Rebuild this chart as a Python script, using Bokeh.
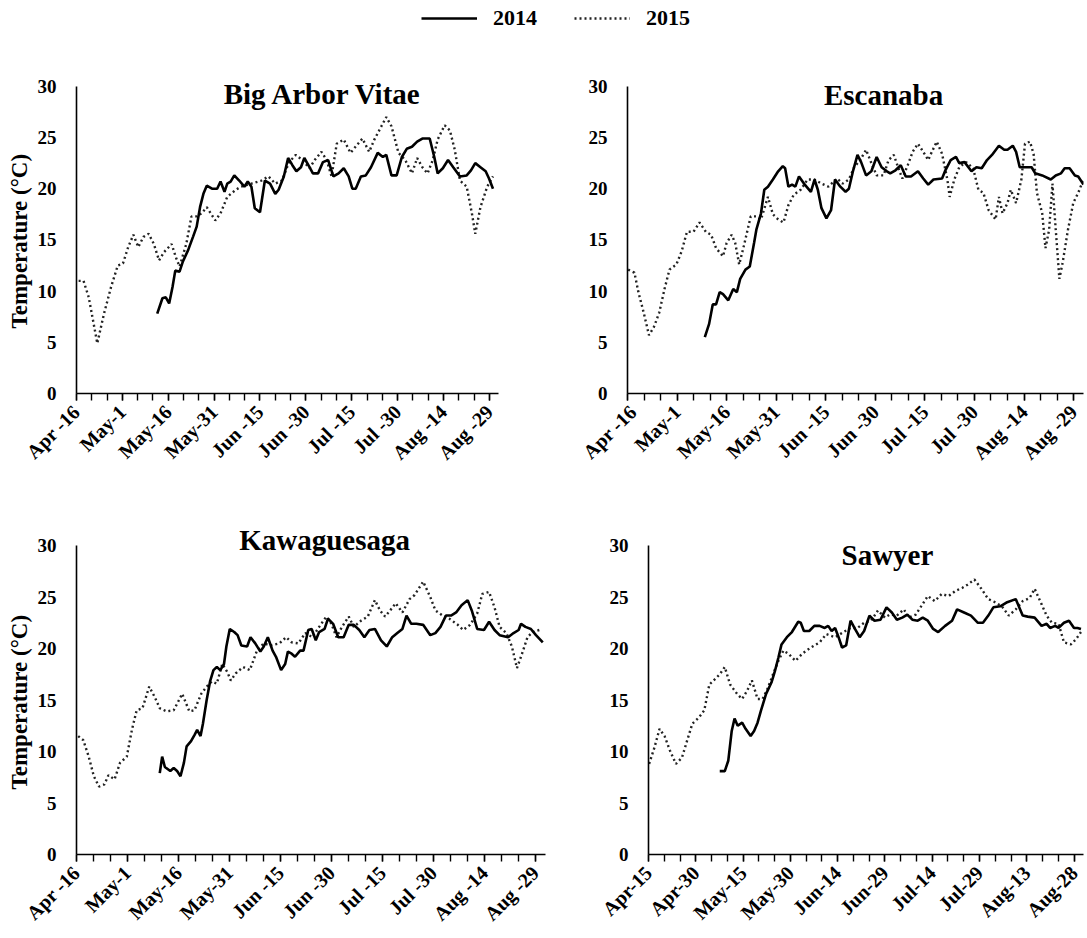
import math
from bokeh.plotting import figure
from bokeh.models import FixedTicker, Label, Legend, LegendItem, Range1d, Title
from bokeh.layouts import column, row
from bokeh.embed import file_html
from bokeh.resources import INLINE

FONT = "Liberation Serif"

# ---- axis ticks / labels (days after the first label date) ----
tick_days = [0, 15, 30, 45, 60, 75, 90, 105, 120, 135]
minor_days = list(range(0, 140, 5))
labels_apr16 = ["Apr -16", "May-1", "May-16", "May-31", "Jun -15", "Jun -30",
                "Jul -15", "Jul -30", "Aug -14", "Aug -29"]
labels_apr15 = ["Apr-15", "Apr-30", "May-15", "May-30", "Jun-14", "Jun-29",
                "Jul-14", "Jul-29", "Aug-13", "Aug-28"]
y_ticks = [0, 5, 10, 15, 20, 25, 30]

sites = ["Big Arbor  Vitae", "Escanaba", "Kawaguesaga", "Sawyer"]
years = ["2014", "2015"]

# ---- Big Arbor Vitae ----
bav_2014_day = [26.4, 28.1, 29.2, 30.3, 31.4, 32.3, 33.7, 34.8, 36.5, 38.1,
                39.3, 40.4, 41.5, 42.6, 44.3, 46.0, 47.1, 48.4, 49.3, 50.4,
                51.6, 53.2, 54.9, 56.0, 57.2, 58.3, 60.0, 61.6, 63.3, 65.0,
                66.1, 67.8, 69.2, 70.6, 71.9, 73.4, 74.5, 76.2, 77.3, 79.0,
                80.6, 82.3, 84.0, 85.7, 87.4, 89.0, 90.2, 91.3, 93.0, 94.6,
                96.3, 98.5, 100.2, 101.3, 103.0, 104.7, 106.4, 108.0, 109.7, 111.4,
                113.1, 115.5, 117.0, 118.1, 119.8, 121.5, 123.2, 125.4, 127.6, 129.0,
                130.4, 132.1, 133.8, 134.9, 136.2]
bav_2014_temp = [7.8, 9.3, 9.4, 8.8, 10.4, 12.0, 11.9, 12.9, 14.0, 15.3,
                 16.3, 18.2, 19.5, 20.3, 20.0, 20.0, 20.7, 19.7, 20.5, 20.7,
                 21.3, 20.8, 20.2, 20.7, 20.2, 18.1, 17.7, 20.8, 20.5, 19.5,
                 19.9, 21.2, 23.0, 22.3, 21.7, 22.1, 23.0, 22.1, 21.5, 21.5,
                 22.6, 22.8, 21.2, 21.5, 22.0, 21.2, 20.0, 20.0, 21.2, 21.3,
                 22.1, 23.5, 23.1, 23.3, 21.3, 21.3, 23.1, 23.9, 24.1, 24.6,
                 24.9, 24.9, 23.1, 21.5, 22.0, 22.8, 22.1, 21.2, 21.3, 21.8,
                 22.5, 22.1, 21.7, 21.0, 20.0]
bav_2015_day = [0.7, 2.3, 4.0, 6.8, 9.0, 11.3, 13.5, 15.2, 16.9, 18.6,
                20.2, 21.9, 23.6, 25.3, 27.0, 28.6, 31.1, 32.5, 33.7, 35.9,
                37.6, 39.3, 40.9, 42.6, 45.4, 47.1, 49.3, 52.1, 53.8, 57.2,
                60.5, 62.8, 65.0, 67.2, 69.5, 71.7, 73.9, 76.2, 77.9, 80.1,
                81.8, 83.4, 85.1, 87.4, 89.6, 91.8, 93.5, 95.7, 97.4, 99.7,
                101.3, 103.0, 105.3, 107.5, 109.7, 111.4, 113.1, 114.8, 116.5, 118.1,
                120.4, 122.1, 123.7, 125.4, 127.6, 129.3, 130.4, 132.1, 134.3, 136.2]
bav_2015_temp = [11.0, 11.0, 9.4, 4.9, 7.8, 10.4, 12.5, 12.7, 14.3, 15.5,
                 14.3, 15.3, 15.6, 14.6, 13.0, 13.8, 14.6, 13.3, 12.4, 14.6,
                 17.3, 17.3, 17.6, 18.2, 16.9, 17.6, 19.2, 19.9, 20.2, 20.5,
                 20.8, 21.2, 20.5, 20.8, 22.6, 23.3, 22.8, 22.0, 22.8, 23.6,
                 22.8, 21.2, 24.4, 24.8, 23.5, 24.3, 24.9, 23.6, 24.8, 26.1,
                 27.0, 26.1, 23.5, 22.8, 21.5, 23.0, 22.1, 21.5, 22.8, 24.8,
                 26.2, 25.7, 23.8, 20.8, 20.2, 17.6, 15.6, 18.2, 20.2, 21.2]

# ---- Escanaba ----
esc_2014_day = [23.4, 24.7, 25.8, 26.8, 27.9, 28.9, 30.5, 32.0, 33.1, 34.1,
                35.7, 37.0, 38.3, 39.0, 40.4, 41.4, 42.5, 44.0, 45.6, 47.0,
                47.7, 48.7, 49.8, 50.8, 51.9, 53.4, 55.5, 56.6, 57.6, 58.7,
                60.2, 61.6, 62.8, 64.4, 66.0, 67.0, 68.3, 69.6, 70.7, 72.2,
                73.8, 75.4, 76.9, 78.5, 79.5, 81.1, 82.7, 84.2, 85.8, 87.9,
                89.5, 91.0, 92.6, 95.2, 96.2, 97.8, 99.4, 100.4, 102.0, 104.1,
                105.6, 107.2, 108.8, 110.3, 112.4, 114.0, 115.0, 116.6, 117.6, 118.7,
                120.3, 122.3, 123.4, 125.5, 128.1, 129.6, 131.2, 132.3, 133.8, 135.4,
                136.4, 138.0]
esc_2014_temp = [5.5, 6.8, 8.7, 8.7, 9.9, 9.7, 9.1, 10.2, 9.9, 11.2,
                 12.1, 12.4, 14.7, 16.0, 17.6, 19.9, 20.2, 20.9, 21.7, 22.2,
                 22.0, 20.2, 20.4, 20.2, 21.2, 20.5, 19.7, 20.9, 19.9, 18.1,
                 17.1, 17.9, 20.9, 20.2, 19.7, 20.0, 21.8, 23.3, 22.6, 21.3,
                 21.7, 23.1, 22.1, 21.7, 21.5, 21.8, 22.3, 21.2, 21.2, 21.7,
                 21.0, 20.4, 20.9, 21.0, 21.8, 22.8, 23.1, 22.5, 22.6, 21.7,
                 22.1, 22.0, 22.8, 23.3, 24.2, 23.8, 23.8, 24.2, 23.6, 22.1,
                 22.1, 22.1, 21.5, 21.3, 20.9, 21.3, 21.5, 22.0, 22.0, 21.3,
                 21.2, 20.4]
esc_2015_day = [0.2, 2.1, 3.3, 4.9, 6.5, 8.0, 9.6, 11.2, 12.7, 14.8,
                16.4, 18.0, 20.0, 21.8, 23.7, 25.3, 26.8, 28.9, 30.0, 31.5,
                32.6, 33.8, 35.2, 37.3, 39.0, 40.4, 42.5, 44.0, 45.6, 47.2,
                48.7, 50.3, 52.4, 54.5, 56.6, 58.7, 60.8, 63.4, 65.1, 67.0,
                68.6, 70.4, 72.2, 73.8, 75.4, 77.5, 79.0, 80.6, 82.2, 83.2,
                84.8, 86.3, 87.9, 89.5, 91.0, 92.1, 93.6, 95.2, 96.8, 97.5,
                98.9, 100.4, 102.5, 104.6, 106.2, 107.7, 109.3, 111.4, 112.4, 113.5,
                115.0, 116.0, 117.6, 119.2, 120.3, 121.8, 122.9, 123.9, 125.5, 126.5,
                127.6, 128.6, 129.6, 130.7, 131.7, 133.3, 134.9, 136.4, 138.0]
esc_2015_temp = [12.1, 11.8, 9.9, 7.9, 5.7, 6.5, 7.9, 10.2, 12.1, 12.6,
                 13.9, 15.8, 15.8, 16.7, 15.8, 15.5, 14.2, 13.4, 14.7, 15.5,
                 14.7, 12.6, 14.4, 17.3, 17.3, 17.0, 19.2, 17.5, 17.0, 16.7,
                 18.4, 19.4, 19.9, 20.9, 20.9, 20.5, 20.2, 21.0, 20.5, 20.9,
                 22.1, 22.8, 23.8, 22.5, 21.3, 21.3, 22.8, 23.3, 21.8, 21.0,
                 22.3, 23.6, 24.4, 23.6, 22.8, 23.6, 24.6, 23.4, 20.9, 19.2,
                 20.9, 22.1, 22.6, 22.0, 19.9, 19.6, 17.9, 17.0, 19.2, 17.6,
                 18.6, 19.9, 18.6, 20.9, 24.4, 24.6, 23.4, 19.6, 17.6, 14.2,
                 16.0, 20.5, 16.0, 11.2, 12.8, 16.0, 18.6, 19.6, 20.9]

# ---- Kawaguesaga ----
kaw_2014_day = [24.5, 25.2, 26.0, 27.6, 28.6, 29.6, 30.6, 31.6, 32.4, 33.7,
                34.7, 35.5, 36.5, 37.2, 38.3, 39.3, 40.3, 41.3, 42.3, 43.4,
                44.1, 45.1, 46.4, 47.4, 48.5, 50.2, 51.2, 52.6, 54.1, 55.1,
                56.3, 57.7, 58.7, 60.2, 61.4, 62.2, 63.3, 64.3, 65.8, 66.8,
                68.2, 69.2, 70.4, 71.4, 73.0, 74.0, 75.5, 77.0, 78.6, 80.1,
                81.6, 83.2, 84.7, 86.2, 87.8, 89.6, 91.3, 92.9, 94.4, 95.9,
                97.1, 98.5, 100.0, 102.0, 104.1, 105.6, 107.1, 108.7, 110.2, 111.7,
                113.3, 115.1, 116.3, 117.9, 119.9, 121.4, 123.0, 124.5, 127.0, 128.6,
                130.1, 130.8, 132.1, 133.7, 135.2, 137.2]
kaw_2014_temp = [7.9, 9.5, 8.5, 8.1, 8.4, 8.1, 7.6, 8.9, 10.5, 11.0,
                 11.6, 12.1, 11.5, 12.7, 15.0, 16.8, 17.9, 18.2, 17.9, 18.5,
                 20.2, 21.9, 21.6, 21.3, 20.3, 20.2, 21.1, 20.5, 19.7, 20.2,
                 21.1, 19.8, 19.2, 17.9, 18.5, 19.7, 19.5, 19.2, 19.8, 19.8,
                 21.8, 21.9, 20.8, 21.6, 21.9, 22.9, 22.4, 21.1, 21.1, 22.3,
                 22.3, 21.8, 21.1, 21.8, 21.9, 20.8, 20.2, 21.1, 21.5, 21.9,
                 23.2, 22.4, 22.4, 22.3, 21.3, 21.5, 22.1, 23.2, 23.2, 23.5,
                 24.2, 24.7, 23.7, 21.9, 21.8, 22.6, 21.8, 21.3, 21.1, 21.5,
                 21.8, 22.4, 22.1, 21.9, 21.3, 20.6]
kaw_2015_day = [0.5, 2.0, 3.6, 5.1, 6.6, 8.2, 9.4, 11.2, 12.8, 14.8,
                16.3, 17.7, 19.4, 21.4, 23.0, 24.5, 26.5, 28.6, 31.1, 33.2,
                34.7, 36.7, 38.3, 39.8, 41.3, 42.9, 44.4, 45.4, 46.9, 49.0,
                51.0, 53.1, 55.1, 57.1, 59.7, 61.7, 63.3, 65.3, 67.3, 69.4,
                71.4, 73.5, 75.0, 76.5, 78.1, 80.1, 81.6, 83.7, 85.7, 87.8,
                89.3, 90.8, 92.3, 93.9, 95.9, 98.0, 99.5, 102.0, 104.1, 105.6,
                107.7, 109.7, 112.2, 113.8, 115.8, 117.9, 119.4, 121.4, 123.0, 124.5,
                126.5, 128.1, 129.6, 131.1, 132.7, 134.2, 136.2]
kaw_2015_temp = [11.5, 11.1, 9.5, 7.6, 6.6, 6.8, 7.7, 7.3, 8.9, 9.5,
                 12.1, 14.0, 14.2, 16.3, 15.3, 14.2, 13.9, 14.0, 15.6, 13.9,
                 14.0, 15.6, 16.3, 16.8, 16.6, 18.5, 17.7, 16.9, 17.6, 18.2,
                 17.9, 19.8, 20.5, 20.3, 20.5, 21.1, 20.6, 20.5, 21.5, 21.1,
                 22.1, 23.1, 22.4, 21.1, 22.1, 23.1, 22.1, 22.7, 23.1, 24.7,
                 23.7, 23.1, 23.7, 24.4, 23.5, 24.8, 25.2, 26.5, 25.0, 23.7,
                 23.2, 22.9, 22.3, 21.8, 22.3, 23.4, 25.3, 25.5, 24.0, 22.1,
                 21.5, 20.2, 18.1, 19.5, 21.1, 21.6, 21.8]

# ---- Sawyer ----
saw_2014_day = [22.6, 24.2, 25.3, 26.4, 27.3, 28.3, 29.7, 30.8, 32.4, 33.5,
                34.6, 35.7, 37.3, 39.0, 40.1, 41.2, 42.2, 43.9, 45.5, 47.5,
                48.3, 49.3, 51.0, 52.6, 54.3, 55.9, 57.0, 58.1, 59.2, 60.3,
                61.4, 62.7, 64.1, 65.5, 67.0, 68.4, 70.1, 71.7, 73.6, 75.5,
                77.2, 78.8, 80.5, 82.1, 83.7, 85.4, 87.0, 88.6, 90.3, 91.9,
                94.1, 96.3, 97.9, 100.1, 102.3, 104.5, 106.1, 107.8, 109.4, 111.6,
                113.8, 116.5, 117.6, 118.7, 120.3, 122.5, 124.7, 126.3, 127.4, 129.0,
                130.1, 131.8, 133.4, 135.0, 136.1, 137.2]
saw_2014_temp = [8.1, 8.1, 9.1, 12.0, 13.2, 12.5, 12.8, 12.2, 11.5, 12.0,
                 12.8, 14.0, 15.6, 16.7, 17.8, 19.1, 20.4, 21.1, 21.6, 22.6,
                 22.5, 21.7, 21.7, 22.2, 22.2, 22.0, 22.2, 21.7, 22.0, 21.1,
                 20.1, 20.3, 22.7, 21.9, 21.1, 21.7, 23.2, 22.7, 22.8, 24.0,
                 23.5, 22.8, 23.0, 23.3, 22.8, 22.7, 23.0, 22.7, 21.9, 21.6,
                 22.2, 22.7, 23.8, 23.5, 23.2, 22.5, 22.5, 23.2, 24.0, 24.1,
                 24.5, 24.8, 24.0, 23.2, 23.1, 23.0, 22.2, 22.4, 22.0, 22.2,
                 22.0, 22.5, 22.7, 22.0, 22.0, 21.9]
saw_2015_day = [0.2, 1.9, 3.5, 5.1, 6.8, 8.7, 10.6, 12.2, 13.9, 16.0,
                17.7, 19.3, 21.0, 22.6, 24.2, 25.9, 28.1, 29.7, 31.3, 32.8,
                34.6, 36.2, 37.9, 39.5, 41.2, 42.8, 44.4, 46.6, 48.8, 51.5,
                54.3, 56.4, 59.2, 61.9, 64.1, 66.3, 68.4, 70.6, 72.8, 75.0,
                76.6, 78.8, 81.0, 82.6, 84.8, 86.5, 88.6, 90.8, 93.0, 95.2,
                97.4, 99.6, 101.2, 103.4, 105.6, 107.8, 109.9, 112.1, 114.3, 116.5,
                118.7, 120.9, 122.5, 124.7, 126.3, 128.0, 130.1, 131.8, 134.0, 135.6,
                137.2]
saw_2015_temp = [8.8, 10.4, 12.2, 11.5, 10.1, 8.8, 9.4, 11.0, 12.7, 13.3,
                 14.0, 16.5, 17.0, 17.5, 18.2, 16.5, 15.6, 15.1, 15.9, 16.9,
                 15.1, 15.1, 16.2, 17.5, 18.8, 19.8, 19.5, 18.8, 19.5, 20.1,
                 20.6, 21.4, 21.1, 21.6, 22.0, 22.0, 22.5, 22.7, 23.7, 23.0,
                 23.3, 23.2, 23.8, 23.0, 23.3, 24.1, 25.1, 24.6, 25.3, 25.1,
                 25.6, 25.9, 26.2, 26.7, 25.8, 24.8, 24.5, 24.1, 23.2, 23.8,
                 24.6, 24.9, 25.8, 24.3, 23.2, 22.5, 22.4, 20.6, 20.4, 20.9,
                 21.6]

SOLID = dict(line_color="#000000", line_width=2.6)
DOTTED = dict(line_color="#222222", line_width=2.4, line_dash="2 3")


def make_panel(name, d14, t14, d15, t15, xlabels, w, h, mbl, mbr, mbt, mbb,
               tx, ty, ylabel):
    p = figure(width=w, height=h, x_range=Range1d(0, 138), y_range=Range1d(0, 33.5),
               output_backend="svg", toolbar_location=None,
               min_border_left=mbl, min_border_right=mbr,
               min_border_top=mbt, min_border_bottom=mbb)
    p.outline_line_color = None
    p.grid.visible = False
    p.line(d15, t15, **DOTTED)
    p.line(d14, t14, **SOLID)

    xa = p.xaxis[0]
    xa.ticker = FixedTicker(ticks=tick_days, minor_ticks=minor_days)
    xa.major_label_overrides = {d: s for d, s in zip(tick_days, xlabels)}
    xa.major_label_orientation = math.pi / 4
    xa.major_tick_out = 7
    xa.major_tick_in = 0
    xa.minor_tick_out = 7
    xa.minor_tick_in = 0
    xa.major_label_standoff = 8
    xa.major_label_text_font_size = "20px"

    ya = p.yaxis[0]
    ya.ticker = FixedTicker(ticks=y_ticks)
    ya.bounds = (0, 30)
    ya.major_tick_out = 0
    ya.major_tick_in = 0
    ya.minor_tick_out = 0
    ya.minor_tick_in = 0
    ya.major_label_standoff = 20
    ya.major_label_text_font_size = "19px"

    for ax in (xa, ya):
        ax.axis_line_color = "#000000"
        ax.axis_line_width = 1.6
        ax.major_tick_line_color = "#000000"
        ax.minor_tick_line_color = "#000000"
        ax.major_tick_line_width = 1.4
        ax.minor_tick_line_width = 1.4
        ax.major_label_text_font = FONT
        ax.major_label_text_font_style = "bold"
        ax.major_label_text_color = "#000000"

    if ylabel:
        p.add_layout(Title(text="Temperature (°C)", align="left", offset=65,
                           standoff=6, text_font=FONT, text_font_size="23px",
                           text_font_style="bold", text_color="#000000"), "left")

    p.add_layout(Label(x=tx, y=ty, text=name, text_align="center",
                       text_baseline="alphabetic", text_font=FONT,
                       text_font_size="29px", text_font_style="bold",
                       text_color="#000000"))
    return p


p1 = make_panel(sites[0], bav_2014_day, bav_2014_temp, bav_2015_day, bav_2015_temp,
                labels_apr16, 578, 440, 76, 80, 11, 85, 81.8, 29.3, True)
p2 = make_panel(sites[1], esc_2014_day, esc_2014_temp, esc_2015_day, esc_2015_temp,
                labels_apr16, 507, 440, 49, 2, 12, 83, 77.5, 29.2, False)
p3 = make_panel(sites[2], kaw_2014_day, kaw_2014_temp, kaw_2015_day, kaw_2015_temp,
                labels_apr16, 578, 458, 76, 33, 31, 81, 73.0, 30.5, True)
p4 = make_panel(sites[3], saw_2014_day, saw_2014_temp, saw_2015_day, saw_2015_temp,
                labels_apr15, 507, 458, 70, 2, 31, 82, 75.8, 29.1, False)

# ---- legend strip (series drawn off-range so only the legend shows) ----
lf = figure(width=1085, height=38, x_axis_type=None, y_axis_type=None,
            x_range=Range1d(0, 1), y_range=Range1d(-2, -1),
            output_backend="svg", toolbar_location=None, min_border=0)
lf.outline_line_color = None
r14 = lf.line(bav_2014_day, bav_2014_temp, **SOLID)
r15 = lf.line(bav_2015_day, bav_2015_temp, **DOTTED)
leg = Legend(items=[LegendItem(label=years[0], renderers=[r14]),
                    LegendItem(label=years[1], renderers=[r15])],
             orientation="horizontal", location=(421, 7),
             glyph_width=56, glyph_height=20, label_standoff=16, spacing=37,
             padding=0, margin=0, border_line_color=None,
             background_fill_alpha=0, label_text_font=FONT,
             label_text_font_size="22px", label_text_font_style="bold",
             label_text_color="#000000")
lf.add_layout(leg, "center")

layout = column(lf, row(p1, p2), row(p3, p4))
open("out.html", "w").write(file_html(layout, INLINE))
